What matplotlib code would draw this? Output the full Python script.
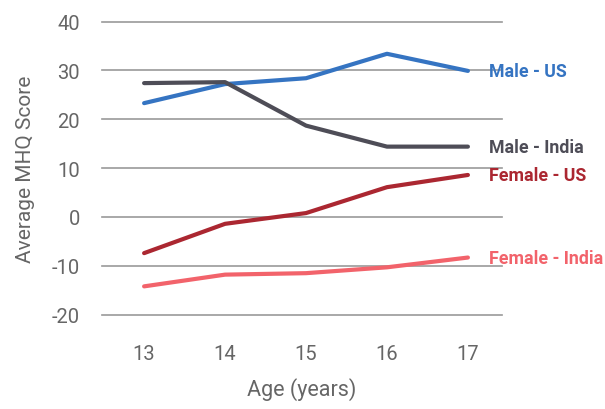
import matplotlib
matplotlib.use("Agg")
import matplotlib.pyplot as plt

# Data
ages = [13, 14, 15, 16, 17]
male_us = [23.3, 27.2, 28.4, 33.4, 29.9]
male_india = [27.4, 27.6, 18.7, 14.4, 14.4]
female_us = [-7.4, -1.4, 0.8, 6.1, 8.6]
female_india = [-14.2, -11.8, -11.5, -10.3, -8.3]

series_names = ["Male - US", "Male - India", "Female - US", "Female - India"]
series_values = [male_us, male_india, female_us, female_india]
series_colors = ["#3574C2", "#4E4D57", "#AB2731", "#F2636B"]

yticks = [-20, -10, 0, 10, 20, 30, 40]

plt.rcParams['font.family'] = ['Roboto', 'DejaVu Sans']

fig = plt.figure(figsize=(6.05, 4.10), dpi=100)
ax = fig.add_axes([0.1686, 0.230, 0.661, 0.715])

for name, vals, col in zip(series_names, series_values, series_colors):
    ax.plot(ages, vals, color=col, lw=3.0, solid_capstyle='round',
            solid_joinstyle='round', zorder=3)
    ax.annotate(name, xy=(ages[-1], vals[-1]), xytext=(21, 0),
                textcoords='offset pixels', va='center', ha='left',
                color=col, fontsize=12.8, fontweight='bold',
                annotation_clip=False)

ax.set_xlim(12.48, 17.42)
ax.set_ylim(-20, 40)
ax.set_xticks(ages)
ax.set_yticks(yticks)
ax.set_yticklabels([str(t) for t in yticks])

ax.grid(axis='y', color='#999999', lw=1.2)
ax.set_axisbelow(True)
for gl in ax.get_ygridlines():
    gl.set_clip_on(False)
for s in ax.spines.values():
    s.set_visible(False)

ax.tick_params(axis='both', length=0, colors='#666666', labelsize=14.5)
ax.tick_params(axis='y', pad=16)
ax.tick_params(axis='x', pad=21)

ax.set_xlabel("Age (years)", fontsize=15.5, color='#666666', labelpad=10)
ax.set_ylabel("Average MHQ Score", fontsize=15, color='#666666', labelpad=12)

fig.savefig("out.png", dpi=100, facecolor='white')
